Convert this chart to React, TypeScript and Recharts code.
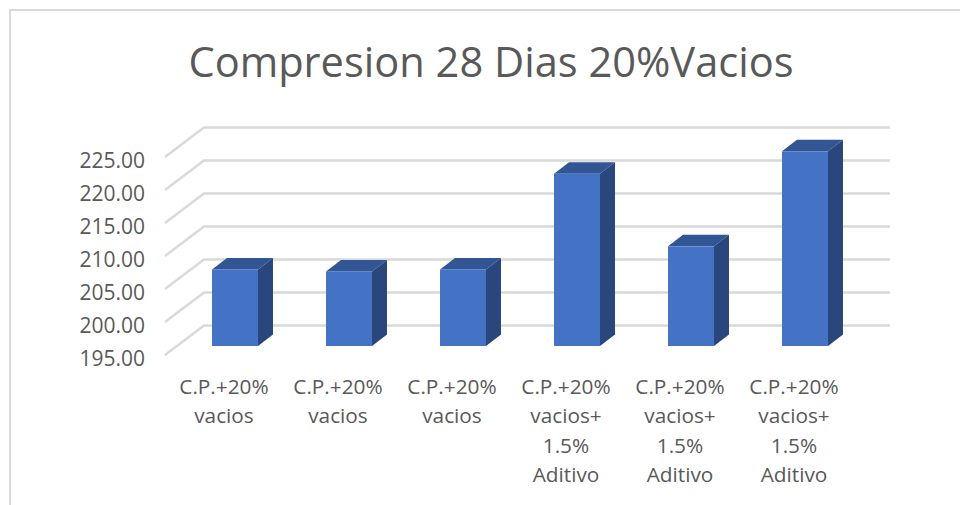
import { Bar, BarChart, CartesianGrid, XAxis, YAxis } from "recharts"

const title = "Compresion 28 Dias 20%Vacios"
const categories = [
  "C.P.+20%\nvacios",
  "C.P.+20%\nvacios",
  "C.P.+20%\nvacios",
  "C.P.+20%\nvacios+\n1.5%\nAditivo",
  "C.P.+20%\nvacios+\n1.5%\nAditivo",
  "C.P.+20%\nvacios+\n1.5%\nAditivo",
]
const compresion = [206.6, 206.3, 206.6, 221.1, 210.1, 224.5]
const yTicks = [195, 200, 205, 210, 215, 220, 225]

const data = categories.map((name, i) => ({ name, compresion: compresion[i] }))

const font = "'Open Sans', sans-serif"
const textColor = "#595959"
const gridColor = "#d9d9d9"

// fake 3D: the walls sit behind the axis plane, bars stand halfway into the depth
const wallDx = 39
const wallDy = 29.5
const barDx = 11
const barDy = 9
const depthX = 15
const depthY = 11.5

function WallLine(props: any) {
  const { x1, x2, y1 } = props
  const left = x1 - 2
  return (
    <polyline
      points={`${left},${y1} ${left + wallDx},${y1 - wallDy} ${x2 + wallDx},${y1 - wallDy}`}
      fill="none"
      stroke={gridColor}
      strokeWidth={2.4}
    />
  )
}

function Bar3D(props: any) {
  const { x, y, width, height } = props
  const l = x + barDx
  const r = l + width
  const t = y - barDy
  const b = t + height
  return (
    <g>
      <polygon
        points={`${l},${t} ${l + depthX},${t - depthY} ${r + depthX},${t - depthY} ${r},${t}`}
        fill="#325594"
      />
      <polygon
        points={`${r},${t} ${r + depthX},${t - depthY} ${r + depthX},${b - depthY} ${r},${b}`}
        fill="#29477d"
      />
      <rect x={l} y={t} width={width} height={height} fill="#4472c4" />
    </g>
  )
}

function CategoryTick(props: any) {
  const { x, y, payload } = props
  return (
    <text x={x} y={y} textAnchor="middle" fontFamily={font} fontSize={20.8} fill={textColor}>
      {String(payload.value)
        .split("\n")
        .map((line, i) => (
          <tspan key={i} x={x} y={y + 31 + i * 29.3}>
            {line}
          </tspan>
        ))}
    </text>
  )
}

export default function App() {
  return (
    <div style={{ position: "absolute", left: 0, top: 0, width: 960, height: 505, overflow: "hidden", background: "#fff" }}>
      <div
        style={{
          position: "absolute",
          left: 9,
          top: 9,
          width: 960,
          height: 505,
          borderLeft: `2px solid ${gridColor}`,
          borderTop: `2px solid ${gridColor}`,
        }}
      />
      <BarChart
        width={960}
        height={505}
        data={data}
        margin={{ top: 157, right: 109, bottom: 0, left: 0 }}
        style={{ position: "absolute", left: 0, top: 0 }}
      >
        <text x={491} y={77} textAnchor="middle" fontFamily={font} fontSize={41.6} fill={textColor}>
          {title}
        </text>
        <CartesianGrid horizontal={(p: any) => <WallLine key={p.key} {...p} />} vertical={false} />
        <XAxis dataKey="name" interval={0} height={150} axisLine={false} tickLine={false} tick={<CategoryTick />} />
        <YAxis
          width={167}
          domain={[195, 225]}
          ticks={yTicks}
          interval={0}
          axisLine={false}
          tickLine={false}
          tickMargin={16}
          tickFormatter={(v: number) => v.toFixed(2)}
          tick={{ fontFamily: font, fontSize: 21, fill: textColor, dy: 4 }}
        />
        <Bar dataKey="compresion" barSize={46} shape={<Bar3D />} isAnimationActive={false} />
      </BarChart>
    </div>
  )
}
